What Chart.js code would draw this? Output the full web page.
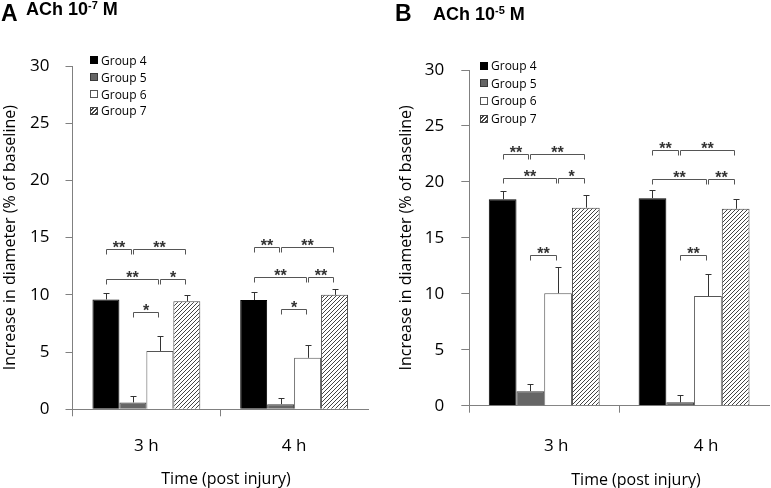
<!DOCTYPE html>
<html>
<head>
<meta charset="utf-8">
<script src="https://cdn.jsdelivr.net/npm/chart.js@4.4.0/dist/chart.umd.min.js"></script>
<style>
  body { margin: 0; background: #fff; }
  #wrap { position: relative; width: 771px; height: 488px; overflow: hidden; font-family: "Open Sans", sans-serif; }
  canvas { position: absolute; top: 0; }
  #chartA { left: 0; }
  #chartB { left: 385px; }
  .letter { position: absolute; font: bold 23px "Liberation Sans", Arial, sans-serif; line-height: 23px; }
  .head { position: absolute; font: bold 18px "Liberation Sans", Arial, sans-serif; line-height: 18px; white-space: nowrap; }
  .head .sup { font-size: 11px; position: relative; top: -6px; }
  .xtitle { position: absolute; font-size: 16px; line-height: 20px; transform: translateX(-50%); white-space: nowrap; color: #000; }
  .legend { position: absolute; font-size: 12px; color: #000; }
  .legend .row { display: flex; align-items: center; white-space: nowrap; }
  .legend .box { width: 8px; height: 8px; box-sizing: border-box; border: 1px solid #444; margin-right: 3px; }
</style>
</head>
<body>
<div id="wrap">
  <canvas id="chartA" width="385" height="488"></canvas>
  <canvas id="chartB" width="386" height="488"></canvas>
  <div class="letter" style="left:1px; top:2px">A</div>
  <div class="head" style="left:26px; top:0px">ACh 10<span class="sup">-7</span> M</div>
  <div class="letter" style="left:395px; top:2px">B</div>
  <div class="head" style="left:433px; top:5px">ACh 10<span class="sup">-5</span> M</div>
  <div class="xtitle" style="left:226px; top:468px">Time (post injury)</div>
  <div class="xtitle" style="left:636px; top:469px">Time (post injury)</div>
  <div class="legend" id="legA" style="left:90px; top:52px"></div>
  <div class="legend" id="legB" style="left:480px; top:57px"></div>
</div>
<script>
const categories = ["3 h", "4 h"];
const groups = ["Group 4", "Group 5", "Group 6", "Group 7"];

// panel A: ACh 10^-7 M
const group4A = [9.6, 9.55];
const group5A = [0.6, 0.45];
const group6A = [5.1, 4.5];
const group7A = [9.45, 10.0];
const group4ErrA = [0.6, 0.7];
const group5ErrA = [0.55, 0.5];
const group6ErrA = [1.3, 1.15];
const group7ErrA = [0.5, 0.5];

// panel B: ACh 10^-5 M
const group4B = [18.45, 18.55];
const group5B = [1.3, 0.3];
const group6B = [10.05, 9.8];
const group7B = [17.7, 17.6];
const group4ErrB = [0.75, 0.75];
const group5ErrB = [0.6, 0.65];
const group6ErrB = [2.35, 1.95];
const group7ErrB = [1.1, 0.85];

// significance brackets: [category, from group, to group, level, label]
const bracketsA = [
  [0, 0, 1, 14.0, "**"], [0, 1, 3, 14.0, "**"],
  [0, 0, 2, 11.35, "**"], [0, 2, 3, 11.35, "*"],
  [0, 1, 2, 8.5, "*"],
  [1, 0, 1, 14.2, "**"], [1, 1, 3, 14.2, "**"],
  [1, 0, 2, 11.6, "**"], [1, 2, 3, 11.6, "**"],
  [1, 1, 2, 8.75, "*"]
];
const bracketsB = [
  [0, 0, 1, 22.5, "**"], [0, 1, 3, 22.5, "**"],
  [0, 0, 2, 20.35, "**"], [0, 2, 3, 20.35, "*"],
  [0, 1, 2, 13.5, "**"],
  [1, 0, 1, 22.85, "**"], [1, 1, 3, 22.85, "**"],
  [1, 0, 2, 20.3, "**"], [1, 2, 3, 20.3, "**"],
  [1, 1, 2, 13.5, "**"]
];

const AXIS = "#808080";

function makeHatch() {
  const c = document.createElement("canvas");
  c.width = 4; c.height = 4;
  const g = c.getContext("2d");
  g.fillStyle = "#fff";
  g.fillRect(0, 0, 4, 4);
  g.strokeStyle = "#444";
  g.lineWidth = 1;
  g.beginPath();
  g.moveTo(0, 4); g.lineTo(4, 0);
  g.moveTo(-1, 1); g.lineTo(1, -1);
  g.moveTo(3, 5); g.lineTo(5, 3);
  g.stroke();
  return g.createPattern(c, "repeat");
}
const hatch = makeHatch();
const fills = ["#000", "#666", "#fff", hatch];
const borders = ["#000", "#3a3a3a", "#555", "#444"];

function extras(errs, brackets) {
  return {
    id: "extras",
    afterDatasetsDraw(chart) {
      const ctx = chart.ctx;
      const y = chart.scales.y;
      ctx.save();
      ctx.strokeStyle = "#333";
      ctx.lineWidth = 1;
      chart.data.datasets.forEach((ds, i) => {
        chart.getDatasetMeta(i).data.forEach((bar, j) => {
          const top = Math.round(y.getPixelForValue(ds.data[j] + errs[i][j])) + 0.5;
          const x = Math.round(bar.x) + 0.5;
          ctx.beginPath();
          ctx.moveTo(x, bar.y);
          ctx.lineTo(x, top);
          ctx.moveTo(x - 3, top);
          ctx.lineTo(x + 3, top);
          ctx.stroke();
        });
      });
      ctx.strokeStyle = "#555";
      ctx.fillStyle = "#333";
      ctx.font = "bold 16px 'Liberation Sans'";
      ctx.textAlign = "center";
      ctx.textBaseline = "alphabetic";
      brackets.forEach(([cat, from, to, level, label]) => {
        const x1 = Math.round(chart.getDatasetMeta(from).data[cat].x) + 0.5;
        const x2 = Math.round(chart.getDatasetMeta(to).data[cat].x) - 1.5;
        const yy = Math.round(y.getPixelForValue(level)) + 0.5;
        ctx.beginPath();
        ctx.moveTo(x1, yy + 5);
        ctx.lineTo(x1, yy);
        ctx.lineTo(x2, yy);
        ctx.lineTo(x2, yy + 5);
        ctx.stroke();
        ctx.fillText(label, (x1 + x2) / 2, yy + 3);
      });
      ctx.restore();
    }
  };
}

function makeChart(id, values, errs, brackets, g) {
  new Chart(document.getElementById(id), {
    type: "bar",
    data: {
      labels: categories,
      datasets: groups.map((name, i) => ({
        label: name,
        data: values[i],
        backgroundColor: fills[i],
        borderColor: borders[i],
        borderWidth: 1,
        categoryPercentage: g.cat,
        barPercentage: 1
      }))
    },
    options: {
      responsive: false,
      animation: false,
      devicePixelRatio: 1,
      layout: { padding: { top: g.top, right: g.right, left: 0, bottom: 0 } },
      plugins: { legend: { display: false }, tooltip: { enabled: false } },
      scales: {
        x: {
          offset: true,
          grid: {
            offset: true, drawOnChartArea: false, tickLength: 7,
            color: ctx => ctx.type === "tick" ? AXIS : "rgba(0,0,0,0)"
          },
          border: { color: AXIS },
          ticks: { color: "#000", font: { family: "Open Sans", size: 17 }, padding: g.xpad, labelOffset: g.xoff },
          afterFit: s => { s.height = g.xh; }
        },
        y: {
          min: 0,
          max: 30,
          ticks: { stepSize: 5, color: "#000", font: { family: "Open Sans", size: 17 }, padding: g.ypad },
          grid: { drawOnChartArea: false, tickLength: g.tl, color: AXIS },
          border: { color: AXIS },
          title: {
            display: true,
            text: "Increase in diameter (% of baseline)",
            color: "#000",
            font: { family: "Open Sans", size: 16 },
            padding: { top: g.tpad, bottom: 0 }
          },
          afterFit: s => { s.width = g.yw; }
        }
      }
    },
    plugins: [extras(errs, brackets)]
  });
}

makeChart("chartA",
  [group4A, group5A, group6A, group7A],
  [group4ErrA, group5ErrA, group6ErrA, group7ErrA],
  bracketsA,
  { cat: 0.73, top: 66, right: 17, xh: 78.7, xpad: 20, xoff: 0, yw: 72.5, ypad: 16, tl: 7, tpad: 1 });

makeChart("chartB",
  [group4B, group5B, group6B, group7B],
  [group4ErrB, group5ErrB, group6ErrB, group7ErrB],
  bracketsB,
  { cat: 0.74, top: 70, right: 2, xh: 82.3, xpad: 23.5, xoff: 12, yw: 84.3, ypad: 17, tl: 8, tpad: 11.5 });

function legend(id, rowH) {
  const el = document.getElementById(id);
  groups.forEach((name, i) => {
    const row = document.createElement("div");
    row.className = "row";
    row.style.height = rowH + "px";
    const box = document.createElement("span");
    box.className = "box";
    box.style.background = i === 3
      ? "repeating-linear-gradient(135deg, #fff 0 1.4px, #444 1.4px 2.6px)"
      : fills[i];
    box.style.borderColor = borders[i];
    row.appendChild(box);
    row.appendChild(document.createTextNode(name));
    el.appendChild(row);
  });
}
legend("legA", 16.8);
legend("legB", 17.6);
</script>
</body>
</html>
